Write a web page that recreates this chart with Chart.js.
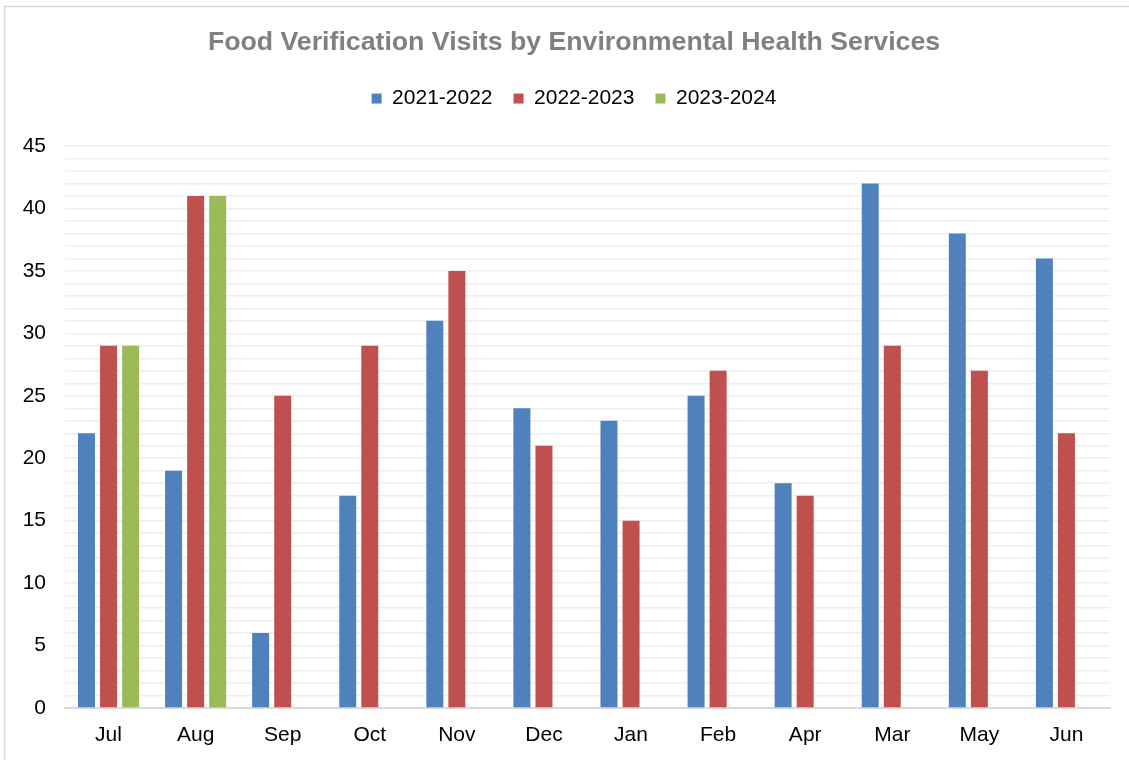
<!DOCTYPE html>
<html lang="en">
<head>
    <meta charset="UTF-8">
    <title>Food Verification Visits</title>
    <script src="https://cdn.jsdelivr.net/npm/chart.js"></script>
    <style>
        body { margin: 0; background: #fff; }
        #wrap { width: 1129px; height: 760px; }
    </style>
</head>
<body>
    <div id="wrap"><canvas id="visitsChart"></canvas></div>

    <script>
        const months = ['Jul', 'Aug', 'Sep', 'Oct', 'Nov', 'Dec', 'Jan', 'Feb', 'Apr', 'Mar', 'May', 'Jun'];
        const visits2122 = [22, 19, 6, 17, 31, 24, 23, 25, 18, 42, 38, 36];
        const visits2223 = [29, 41, 25, 29, 35, 21, 15, 27, 17, 29, 27, 22];
        const visits2324 = [29, 41, null, null, null, null, null, null, null, null, null, null];

        Chart.defaults.font.family = "'Liberation Sans', Arial, sans-serif";
        Chart.defaults.color = '#000';

        // outer frame like the spreadsheet chart area
        const frame = {
            id: 'frame',
            beforeDraw(chart) {
                const c = chart.ctx;
                c.save();
                c.fillStyle = '#fff';
                c.fillRect(0, 0, chart.width, chart.height);
                c.strokeStyle = '#d9d9d9';
                c.lineWidth = 1.5;
                c.strokeRect(4.5, 6.5, chart.width + 10, chart.height + 10);
                c.restore();
            }
        };

        // extra room under the legend
        const legendGap = {
            id: 'legendGap',
            beforeInit(chart) {
                const fit = chart.legend.fit;
                chart.legend.fit = function () {
                    fit.bind(chart.legend)();
                    this.height += 27;
                };
            }
        };

        const ctx = document.getElementById('visitsChart').getContext('2d');
        new Chart(ctx, {
            type: 'bar',
            data: {
                labels: months,
                datasets: [
                    { label: '2021-2022', data: visits2122, backgroundColor: '#4F81BD' },
                    { label: '2022-2023', data: visits2223, backgroundColor: '#C0504D' },
                    { label: '2023-2024', data: visits2324, backgroundColor: '#9BBB59' }
                ]
            },
            options: {
                responsive: true,
                maintainAspectRatio: false,
                animation: false,
                categoryPercentage: 0.76,
                barPercentage: 0.77,
                layout: { padding: { left: 19, right: 0, top: 0, bottom: 0 } },
                plugins: {
                    title: {
                        display: true,
                        text: 'Food Verification Visits by Environmental Health Services',
                        color: '#808080',
                        font: { size: 26.7, weight: 'bold' },
                        padding: { top: 27, bottom: 8 }
                    },
                    legend: {
                        labels: {
                            boxWidth: 10,
                            boxHeight: 10,
                            padding: 21,
                            font: { size: 21 },
                            color: '#000'
                        }
                    },
                    tooltip: { enabled: false }
                },
                scales: {
                    x: {
                        grid: { display: false },
                        border: { display: true, color: '#d9d9d9', width: 2 },
                        ticks: { font: { size: 21 }, padding: 7, color: '#000' },
                        afterFit(scale) { scale.height = 52; }
                    },
                    y: {
                        min: 0,
                        max: 45,
                        afterFit(scale) { scale.width = 46; },
                        grid: {
                            drawTicks: false,
                            color: c => c.tick.value === 0 ? '#d9d9d9' : '#eeeeee',
                            lineWidth: 1.5
                        },
                        border: { display: false },
                        ticks: {
                            stepSize: 1,
                            autoSkip: false,
                            padding: 19,
                            font: { size: 21 },
                            color: '#000',
                            callback: v => v % 5 === 0 ? v : ''
                        }
                    },
                    spacer: {
                        position: 'right',
                        grid: { display: false },
                        border: { display: false },
                        ticks: { display: false },
                        afterFit(scale) { scale.width = 19; }
                    }
                }
            },
            plugins: [frame, legendGap]
        });
    </script>
</body>
</html>
